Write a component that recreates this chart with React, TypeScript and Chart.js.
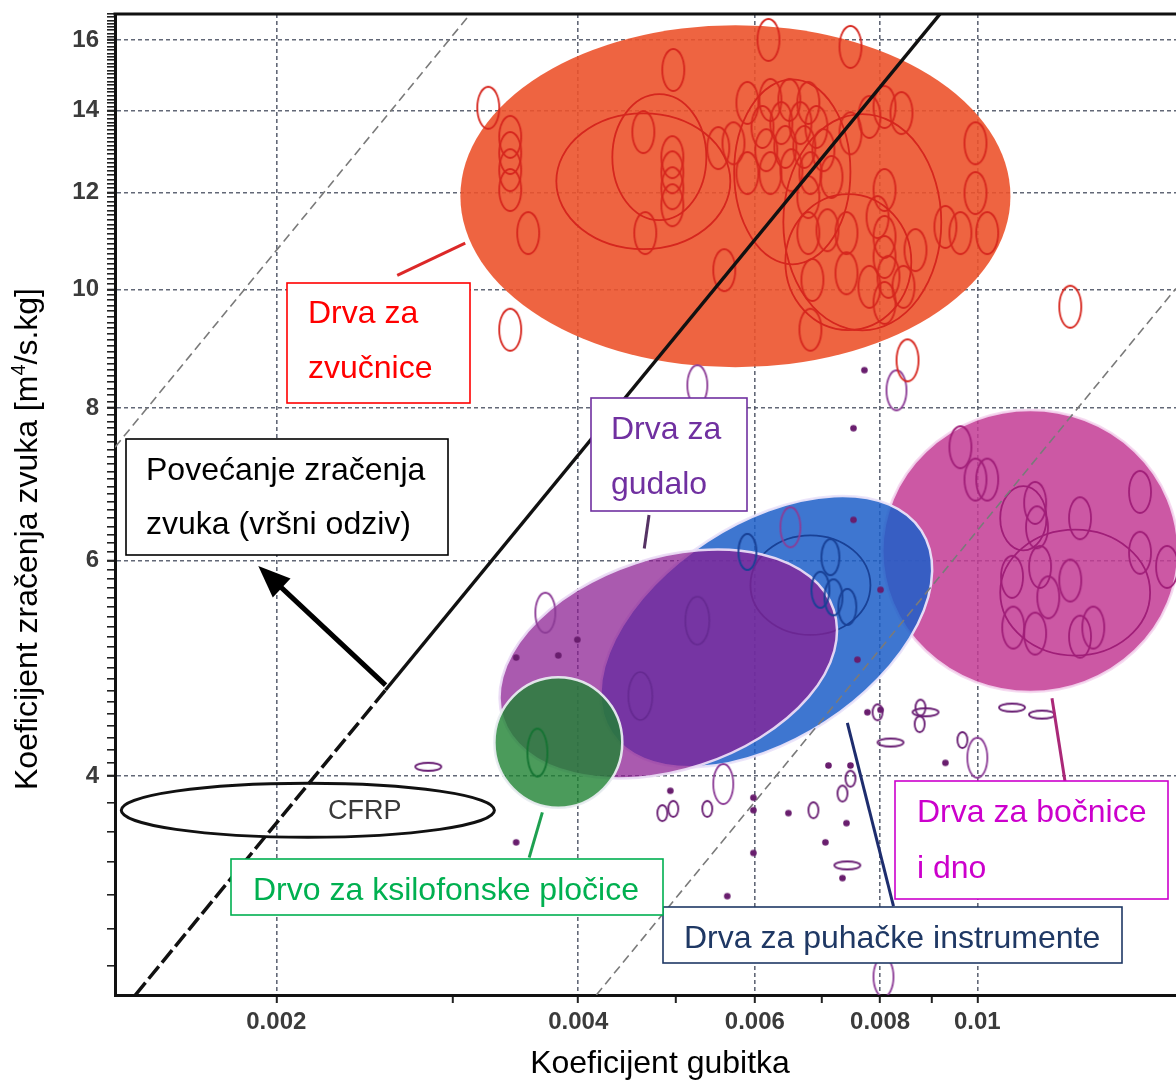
import React, { useEffect, useRef } from 'react';
import { Chart, registerables } from 'chart.js';

Chart.register(...registerables);

// ---------------- axes ----------------
const xRange = [0.001381, 0.01578];
const yRange = [2.648, 16.8];
const xMajorTicks = [0.002, 0.004, 0.006, 0.008, 0.01];
const xTickLabels = ['0.002', '0.004', '0.006', '0.008', '0.01'];
const xMinorTicks = [0.003, 0.005, 0.007, 0.009];
const yMajorTicks = [4, 6, 8, 10, 12, 14, 16];
const yTickLabels = ['4', '6', '8', '10', '12', '14', '16'];
const yLowMinorTicks = [2.8, 3.0, 3.2, 3.4, 3.6, 3.8];
const yFineTickRange = [4.0, 16.8]; // minor marks every 0.1
const xTitle = 'Koeficijent gubitka';
const yTitleParts = ['Koeficijent zračenja zvuka [m', '4', '/s.kg]'];

// ---------------- wood groups (filled ellipses) ----------------
// order: zvučnice, bočnice i dno, puhački instrumenti, gudalo, ksilofonske pločice
const groupLabelLines = [
  ['Drva za', 'zvučnice'],
  ['Drva za bočnice', 'i dno'],
  ['Drva za puhačke instrumente'],
  ['Drva za', 'gudalo'],
  ['Drvo za ksilofonske pločice'],
];
// major-axis end points [loss coefficient, radiation coefficient] and minor/major ratio
const groupAxisStart = [[0.003052, 11.92], [0.00804, 6.11], [0.004316, 4.34], [0.003364, 4.46], [0.0033, 4.26]];
const groupAxisEnd = [[0.01079, 11.92], [0.01586, 6.11], [0.008794, 6.35], [0.007192, 5.47], [0.004426, 4.26]];
const groupAspect = [0.622, 0.953, 0.584, 0.609, 1.02];

// leader lines from each group to its label
const leaderFrom = [[0.00264, 10.27], [0.01187, 4.63], [0.00742, 4.42], [0.004706, 6.54], [0.003684, 3.735]];
const leaderTo = [[0.003086, 10.91], [0.01223, 3.96], [0.008249, 3.13], [0.004655, 6.14], [0.003574, 3.43]];

// large outlined sub-group rings [group index]
const ringGroup = [0, 0, 0, 0, 0, 1, 1, 2];
const ringStart = [[0.003804, 12.26], [0.004326, 12.83], [0.005722, 12.48], [0.006406, 11.35], [0.006436, 10.53], [0.01054, 5.65], [0.01054, 6.5], [0.00594, 5.73]];
const ringEnd = [[0.005672, 12.26], [0.005368, 12.83], [0.007473, 12.48], [0.009206, 11.35], [0.008594, 10.53], [0.01487, 5.65], [0.01172, 6.5], [0.007824, 5.73]];
const ringAspect = [0.78, 1.34, 1.59, 1.37, 1.08, 0.84, 1.39, 0.83];

// CFRP reference ellipse
const cfrpLabel = 'CFRP';
const cfrpStart = [0.001401, 3.75];
const cfrpEnd = [0.0033, 3.75];
const cfrpAspect = 0.145;
const cfrpLabelAt = [0.00245, 3.75];

// ---------------- individual species (small ellipses / dots) ----------------
const redSpecies = [
  [0.003254, 14.08], [0.003422, 13.33], [0.003422, 12.93], [0.003422, 12.52], [0.003422, 12.06],
  [0.003566, 11.12], [0.003422, 9.27], [0.004976, 15.12], [0.004645, 13.45],
  [0.004965, 12.83], [0.004965, 12.47], [0.004965, 12.1], [0.004965, 11.72], [0.004666, 11.12],
  [0.005517, 13.05], [0.005713, 13.17], [0.006191, 16.0], [0.007473, 15.79], [0.005899, 14.21],
  [0.006219, 14.29], [0.006495, 14.29], [0.006785, 14.21],
  [0.006106, 13.58], [0.006377, 13.68], [0.006662, 13.68], [0.006911, 13.58],
  [0.00616, 13.0], [0.006436, 13.08], [0.006723, 13.08], [0.007023, 13.0],
  [0.005899, 12.45], [0.006219, 12.45], [0.006526, 12.52], [0.006817, 12.45], [0.007154, 12.36],
  [0.006785, 11.9], [0.007473, 13.42], [0.007806, 13.84], [0.008081, 14.1], [0.008402, 13.94],
  [0.009957, 13.17], [0.009957, 11.99], [0.01023, 11.12], [0.009294, 11.25], [0.009619, 11.12],
  [0.005594, 10.37], [0.008081, 12.06], [0.007952, 11.46], [0.008081, 11.04], [0.008081, 10.63], [0.008155, 10.24],
  [0.006785, 11.12], [0.007089, 11.18], [0.007405, 11.12],
  [0.006848, 10.18], [0.007405, 10.31], [0.007806, 10.05], [0.008441, 10.05], [0.008676, 10.77],
  [0.008081, 9.75], [0.006817, 9.27], [0.01238, 9.68], [0.008519, 8.75],
];
const magentaSpecies = [
  [0.009619, 7.43], [0.009957, 6.99], [0.01023, 6.99], [0.01142, 6.69], [0.01147, 6.39], [0.01266, 6.5],
  [0.01453, 6.83], [0.01453, 6.09], [0.01546, 5.93], [0.01083, 5.82], [0.01155, 5.93], [0.01177, 5.6],
  [0.01238, 5.78], [0.01086, 5.29], [0.01142, 5.23], [0.01266, 5.2], [0.01305, 5.29],
];
const mauveSpecies = [
  [0.005258, 8.35], [0.008306, 8.27], [0.005581, 3.94], [0.01, 4.14], [0.008062, 2.74], [0.003709, 5.44], [0.006511, 6.39],
];
const smallPurpleSpecies = [
  [0.004852, 3.73], [0.004976, 3.76], [0.00538, 3.76], [0.006864, 3.75], [0.007473, 3.98],
  [0.007337, 3.87], [0.008777, 4.55], [0.00876, 4.41], [0.009663, 4.28], [0.007952, 4.51],
];
const widePurpleSpecies = [
  [0.00742, 3.38], [0.008193, 4.26], [0.008879, 4.51], [0.01083, 4.55], [0.0116, 4.49], [0.002835, 4.07],
];
const dotSpecies = [
  [0.004942, 3.89], [0.005981, 3.84], [0.005981, 3.75], [0.005981, 3.46], [0.005632, 3.19], [0.006481, 3.73],
  [0.007105, 4.08], [0.007473, 4.08], [0.007405, 3.66], [0.007056, 3.53], [0.007337, 3.3], [0.009294, 4.1],
  [0.00777, 4.51], [0.008007, 4.53], [0.003469, 5.0], [0.003821, 5.02], [0.003992, 5.17], [0.003469, 3.53],
  [0.007525, 7.7], [0.007717, 8.59], [0.007525, 6.48], [0.007594, 4.98], [0.008007, 5.68],
];
const blueSpecies = [[0.005899, 6.1], [0.007137, 6.04], [0.006975, 5.68], [0.007187, 5.6], [0.00742, 5.5]];
const greenSpecies = [[0.003642, 4.18]];
const faintSpecies = [[0.005258, 5.36], [0.004613, 4.65]];

// ---------------- guide lines ----------------
const peakLineUpper = [[0.00257, 4.703], [0.00918, 16.8]];
const peakLineLower = [[0.001447, 2.648], [0.00257, 4.703]];
const guideLeft = [[0.001381, 7.43], [0.003122, 16.8]];
const guideRight = [[0.00417, 2.648], [0.01578, 10.02]];
const arrowFrom = [0.00257, 4.747];
const arrowTo = [0.001919, 5.94];
const calloutLines = ['Povećanje zračenja', 'zvuka (vršni odziv)'];

// ---------------- styles ----------------
const W = 1176;
const H = 1081;
const FONT = '"Liberation Sans", Arial, Helvetica, sans-serif';
const GROUP_FILL = ['rgba(236,83,44,0.9)', 'rgba(196,61,149,0.86)', 'rgba(30,95,200,0.86)', 'rgba(138,29,145,0.73)', 'rgba(30,130,50,0.8)'];
const GROUP_EDGE = [null, 'rgba(245,215,240,0.9)', 'rgba(235,228,250,0.95)', 'rgba(235,220,245,0.95)', 'rgba(232,236,240,0.95)'];
const GROUP_RING = ['rgb(214,38,30)', 'rgb(160,30,120)', 'rgb(25,65,150)', 'rgb(90,30,120)', 'rgb(20,110,50)'];
const LABEL_COLOR = ['#ff0000', '#cc00cc', '#1f3864', '#7030a0', '#00b050'];
const LEADER_COLOR = ['rgb(220,40,40)', 'rgb(170,40,120)', 'rgb(30,45,110)', 'rgb(85,50,100)', 'rgb(30,160,80)'];
// label boxes (pixel layout): x, y, w, h, text x, baselines
const BOX_LAYOUT = [
  { x: 287, y: 283, w: 183, h: 120, tx: 308, base: [323, 378] },
  { x: 895, y: 781, w: 273, h: 118, tx: 917, base: [822, 878] },
  { x: 663, y: 907, w: 459, h: 56, tx: 684, base: [948] },
  { x: 591, y: 398, w: 156, h: 113, tx: 611, base: [439, 494] },
  { x: 231, y: 859, w: 432, h: 56, tx: 253, base: [900] },
];
const CALLOUT_LAYOUT = { x: 126, y: 439, w: 322, h: 116, tx: 146, base: [480, 534] };
const GRID = 'rgba(70,78,95,0.85)';

const near = (a: number, b: number) => Math.abs(a - b) < 1e-9;
const pts = (arr: number[][]) => arr.map(([x, y]) => ({ x, y }));

function makeRing(rx: number, ry: number, color: string, lw: number, fill?: string) {
  const c = document.createElement('canvas');
  c.width = Math.ceil(2 * rx + lw + 4);
  c.height = Math.ceil(2 * ry + lw + 4);
  const g = c.getContext('2d')!;
  g.beginPath();
  g.ellipse(c.width / 2, c.height / 2, rx, ry, 0, 0, Math.PI * 2);
  if (fill) {
    g.fillStyle = fill;
    g.fill();
  }
  g.strokeStyle = color;
  g.lineWidth = lw;
  g.stroke();
  return c;
}

function ellipsePath(ctx: CanvasRenderingContext2D, chart: any, s: number[], e: number[], aspect: number) {
  const xs = chart.scales.x;
  const ys = chart.scales.y;
  const x1 = xs.getPixelForValue(s[0]);
  const y1 = ys.getPixelForValue(s[1]);
  const x2 = xs.getPixelForValue(e[0]);
  const y2 = ys.getPixelForValue(e[1]);
  const a = Math.hypot(x2 - x1, y2 - y1) / 2;
  ctx.beginPath();
  ctx.ellipse((x1 + x2) / 2, (y1 + y2) / 2, a, a * aspect, Math.atan2(y2 - y1, x2 - x1), 0, Math.PI * 2);
}

function drawBox(ctx: CanvasRenderingContext2D, L: any, lines: string[], color: string) {
  ctx.save();
  ctx.fillStyle = '#ffffff';
  ctx.fillRect(L.x, L.y, L.w, L.h);
  ctx.strokeStyle = color;
  ctx.lineWidth = 1.6;
  ctx.strokeRect(L.x, L.y, L.w, L.h);
  ctx.fillStyle = color;
  ctx.font = `32px ${FONT}`;
  ctx.textAlign = 'left';
  ctx.textBaseline = 'alphabetic';
  lines.forEach((t, i) => ctx.fillText(t, L.tx, L.base[i]));
  ctx.restore();
}

const overlayPlugin = {
  id: 'woodOverlay',
  beforeDatasetsDraw(chart: any) {
    const { ctx, chartArea: a } = chart;
    ctx.save();
    ctx.beginPath();
    ctx.rect(a.left, a.top, a.right - a.left, a.bottom - a.top);
    ctx.clip();
    for (let g = 0; g < groupAxisStart.length; g++) {
      ellipsePath(ctx, chart, groupAxisStart[g], groupAxisEnd[g], groupAspect[g]);
      ctx.fillStyle = GROUP_FILL[g];
      ctx.fill();
      if (GROUP_EDGE[g]) {
        ctx.lineWidth = 2.5;
        ctx.strokeStyle = GROUP_EDGE[g];
        ctx.stroke();
      }
      for (let r = 0; r < ringGroup.length; r++) {
        if (ringGroup[r] !== g) continue;
        ellipsePath(ctx, chart, ringStart[r], ringEnd[r], ringAspect[r]);
        ctx.lineWidth = 1.8;
        ctx.strokeStyle = GROUP_RING[g];
        ctx.stroke();
      }
    }
    ellipsePath(ctx, chart, cfrpStart, cfrpEnd, cfrpAspect);
    ctx.lineWidth = 3;
    ctx.strokeStyle = '#111';
    ctx.stroke();
    ctx.restore();
  },
  afterDatasetsDraw(chart: any) {
    const { ctx } = chart;
    const xs = chart.scales.x;
    const ys = chart.scales.y;
    // CFRP text
    ctx.save();
    ctx.fillStyle = '#3a3a3a';
    ctx.font = `27px ${FONT}`;
    ctx.textAlign = 'center';
    ctx.textBaseline = 'middle';
    ctx.fillText(cfrpLabel, xs.getPixelForValue(cfrpLabelAt[0]), ys.getPixelForValue(cfrpLabelAt[1]) + 1);
    ctx.restore();
    // arrow
    const x0 = xs.getPixelForValue(arrowFrom[0]);
    const y0 = ys.getPixelForValue(arrowFrom[1]);
    const x1 = xs.getPixelForValue(arrowTo[0]);
    const y1 = ys.getPixelForValue(arrowTo[1]);
    const ang = Math.atan2(y1 - y0, x1 - x0);
    const headLen = 32;
    const headW = 13;
    const bx = x1 - headLen * Math.cos(ang);
    const by = y1 - headLen * Math.sin(ang);
    ctx.save();
    ctx.strokeStyle = '#000';
    ctx.fillStyle = '#000';
    ctx.lineWidth = 5;
    ctx.beginPath();
    ctx.moveTo(x0, y0);
    ctx.lineTo(bx + 4 * Math.cos(ang), by + 4 * Math.sin(ang));
    ctx.stroke();
    ctx.beginPath();
    ctx.moveTo(x1, y1);
    ctx.lineTo(bx + headW * Math.sin(ang), by - headW * Math.cos(ang));
    ctx.lineTo(bx - headW * Math.sin(ang), by + headW * Math.cos(ang));
    ctx.closePath();
    ctx.fill();
    ctx.restore();
    // label boxes
    drawBox(ctx, CALLOUT_LAYOUT, calloutLines, '#000000');
    for (let g = 0; g < groupLabelLines.length; g++) drawBox(ctx, BOX_LAYOUT[g], groupLabelLines[g], LABEL_COLOR[g]);
  },
  afterDraw(chart: any) {
    const { ctx, chartArea: a } = chart;
    ctx.save();
    // top frame
    ctx.strokeStyle = '#111';
    ctx.lineWidth = 3;
    ctx.beginPath();
    ctx.moveTo(a.left - 1.5, a.top);
    ctx.lineTo(a.right, a.top);
    ctx.stroke();
    // x title
    ctx.fillStyle = '#000';
    ctx.font = `32px ${FONT}`;
    ctx.textAlign = 'center';
    ctx.textBaseline = 'alphabetic';
    ctx.fillText(xTitle, 660, 1073);
    // y title with superscript
    ctx.translate(37, 539);
    ctx.rotate(-Math.PI / 2);
    const big = `32px ${FONT}`;
    const small = `20px ${FONT}`;
    ctx.font = big;
    const w1 = ctx.measureText(yTitleParts[0]).width;
    const w3 = ctx.measureText(yTitleParts[2]).width;
    ctx.font = small;
    const w2 = ctx.measureText(yTitleParts[1]).width;
    let x = -(w1 + w2 + w3) / 2;
    ctx.textAlign = 'left';
    ctx.font = big;
    ctx.fillText(yTitleParts[0], x, 0);
    x += w1;
    ctx.font = small;
    ctx.fillText(yTitleParts[1], x, -12);
    x += w2;
    ctx.font = big;
    ctx.fillText(yTitleParts[2], x, 0);
    ctx.restore();
  },
};

export default function App() {
  const ref = useRef<HTMLCanvasElement>(null);

  useEffect(() => {
    document.body.style.margin = '0';
    const canvas = ref.current;
    if (!canvas) return;

    const yTickValues: number[] = [...yLowMinorTicks];
    for (let k = Math.round(yFineTickRange[0] * 10); k <= Math.round(yFineTickRange[1] * 10); k++) yTickValues.push(k / 10);
    const xTickValues = [...xMajorTicks, ...xMinorTicks].sort((p, q) => p - q);
    const isXMajor = (v: number) => xMajorTicks.some((m) => near(m, v));
    const isYMajor = (v: number) => yMajorTicks.some((m) => Math.abs(m - v) < 1e-6);

    const styleRed = makeRing(11, 21, 'rgb(214,38,30)', 1.8);
    const styleMagenta = makeRing(11, 21, 'rgb(160,30,120)', 1.8);
    const styleMauve = makeRing(10, 20, 'rgb(140,60,150)', 1.8);
    const styleSmall = makeRing(5, 8, 'rgb(105,30,115)', 1.8);
    const styleWide = makeRing(13, 4, 'rgb(105,30,115)', 1.8);
    const styleDot = makeRing(2.6, 2.6, 'rgb(105,30,110)', 1.4, 'rgb(105,30,110)');
    const styleBlue = makeRing(9, 18, 'rgb(25,65,150)', 1.8);
    const styleGreen = makeRing(10, 24, 'rgb(20,115,50)', 1.8);
    const styleFaint = makeRing(12, 24, 'rgba(70,20,110,0.35)', 1.6);

    const lineDs = (data: number[][], color: string, width: number, dash: number[], order: number) => ({
      data: pts(data),
      showLine: true,
      borderColor: color,
      borderWidth: width,
      borderDash: dash,
      pointRadius: 0,
      fill: false,
      order,
    });
    const markerDs = (data: number[][], style: any, order: number) => ({
      data: pts(data),
      showLine: false,
      pointStyle: style,
      pointRadius: 6,
      pointHoverRadius: 6,
      order,
    });

    const datasets: any[] = [
      lineDs(peakLineUpper, '#111', 3.5, [], 1),
      lineDs(peakLineLower, '#111', 3.5, [16, 5], 1),
      ...leaderFrom.map((f, i) => lineDs([f, leaderTo[i]], LEADER_COLOR[i], 3, [], 2)),
      markerDs(redSpecies, styleRed, 5),
      markerDs(magentaSpecies, styleMagenta, 5),
      markerDs(mauveSpecies, styleMauve, 5),
      markerDs(smallPurpleSpecies, styleSmall, 5),
      markerDs(widePurpleSpecies, styleWide, 5),
      markerDs(dotSpecies, styleDot, 5),
      markerDs(blueSpecies, styleBlue, 5),
      markerDs(greenSpecies, styleGreen, 5),
      markerDs(faintSpecies, styleFaint, 5),
      lineDs(guideLeft, '#7a7a7a', 1.6, [9, 5], 10),
      lineDs(guideRight, '#7a7a7a', 1.6, [9, 5], 10),
    ];

    const tickFont = { family: FONT, size: 24, weight: 'bold' as const };

    const chart = new Chart(canvas, {
      type: 'scatter',
      data: { datasets },
      plugins: [overlayPlugin],
      options: {
        animation: false,
        responsive: false,
        devicePixelRatio: 1,
        events: [],
        layout: { autoPadding: false, padding: { top: 14, right: 0, left: 0, bottom: 0 } },
        plugins: { legend: { display: false }, tooltip: { enabled: false }, title: { display: false } },
        scales: {
          x: {
            type: 'logarithmic',
            min: xRange[0],
            max: xRange[1],
            bounds: 'data',
            afterFit: (s: any) => {
              s.height = H - 995;
              s.paddingLeft = 0;
              s.paddingRight = 0;
              s.paddingTop = 0;
              s.paddingBottom = 0;
            },
            afterBuildTicks: (s: any) => {
              s.ticks = xTickValues.map((v) => ({ value: v }));
            },
            ticks: {
              autoSkip: false,
              maxRotation: 0,
              minRotation: 0,
              padding: 5,
              color: '#3b3b3b',
              font: tickFont,
              callback: (v: any) => {
                const i = xMajorTicks.findIndex((m) => near(m, Number(v)));
                return i >= 0 ? xTickLabels[i] : '';
              },
            },
            grid: {
              color: (c: any) => (c.tick && isXMajor(c.tick.value) ? GRID : 'rgba(0,0,0,0)'),
              lineWidth: 1.6,
              borderDash: [4, 3],
              drawTicks: true,
              tickLength: 8,
              tickColor: '#222',
              tickWidth: 2,
            } as any,
            border: { display: true, color: '#111', width: 3, dash: [4, 3] } as any,
          },
          y: {
            type: 'logarithmic',
            min: yRange[0],
            max: yRange[1],
            bounds: 'data',
            afterFit: (s: any) => {
              s.width = 115;
              s.paddingLeft = 0;
              s.paddingRight = 0;
              s.paddingTop = 0;
              s.paddingBottom = 0;
            },
            afterBuildTicks: (s: any) => {
              s.ticks = yTickValues.map((v) => ({ value: v }));
            },
            ticks: {
              autoSkip: false,
              padding: 8,
              color: '#3b3b3b',
              font: tickFont,
              callback: (v: any) => {
                const i = yMajorTicks.findIndex((m) => Math.abs(m - Number(v)) < 1e-6);
                return i >= 0 ? yTickLabels[i] : '';
              },
            },
            grid: {
              color: (c: any) => (c.tick && isYMajor(c.tick.value) ? GRID : 'rgba(0,0,0,0)'),
              lineWidth: 1.6,
              borderDash: [4, 3],
              drawTicks: true,
              tickLength: 8,
              tickColor: '#222',
              tickWidth: (c: any) => (c.tick && isYMajor(c.tick.value) ? 2.2 : 1.6),
            } as any,
            border: { display: true, color: '#111', width: 3, dash: [4, 3] } as any,
          },
        },
      } as any,
    });

    return () => chart.destroy();
  }, []);

  return (
    <div style={{ position: 'absolute', left: 0, top: 0, width: W, height: H, background: '#fff' }}>
      <canvas ref={ref} width={W} height={H} style={{ display: 'block', width: W, height: H }} />
    </div>
  );
}
